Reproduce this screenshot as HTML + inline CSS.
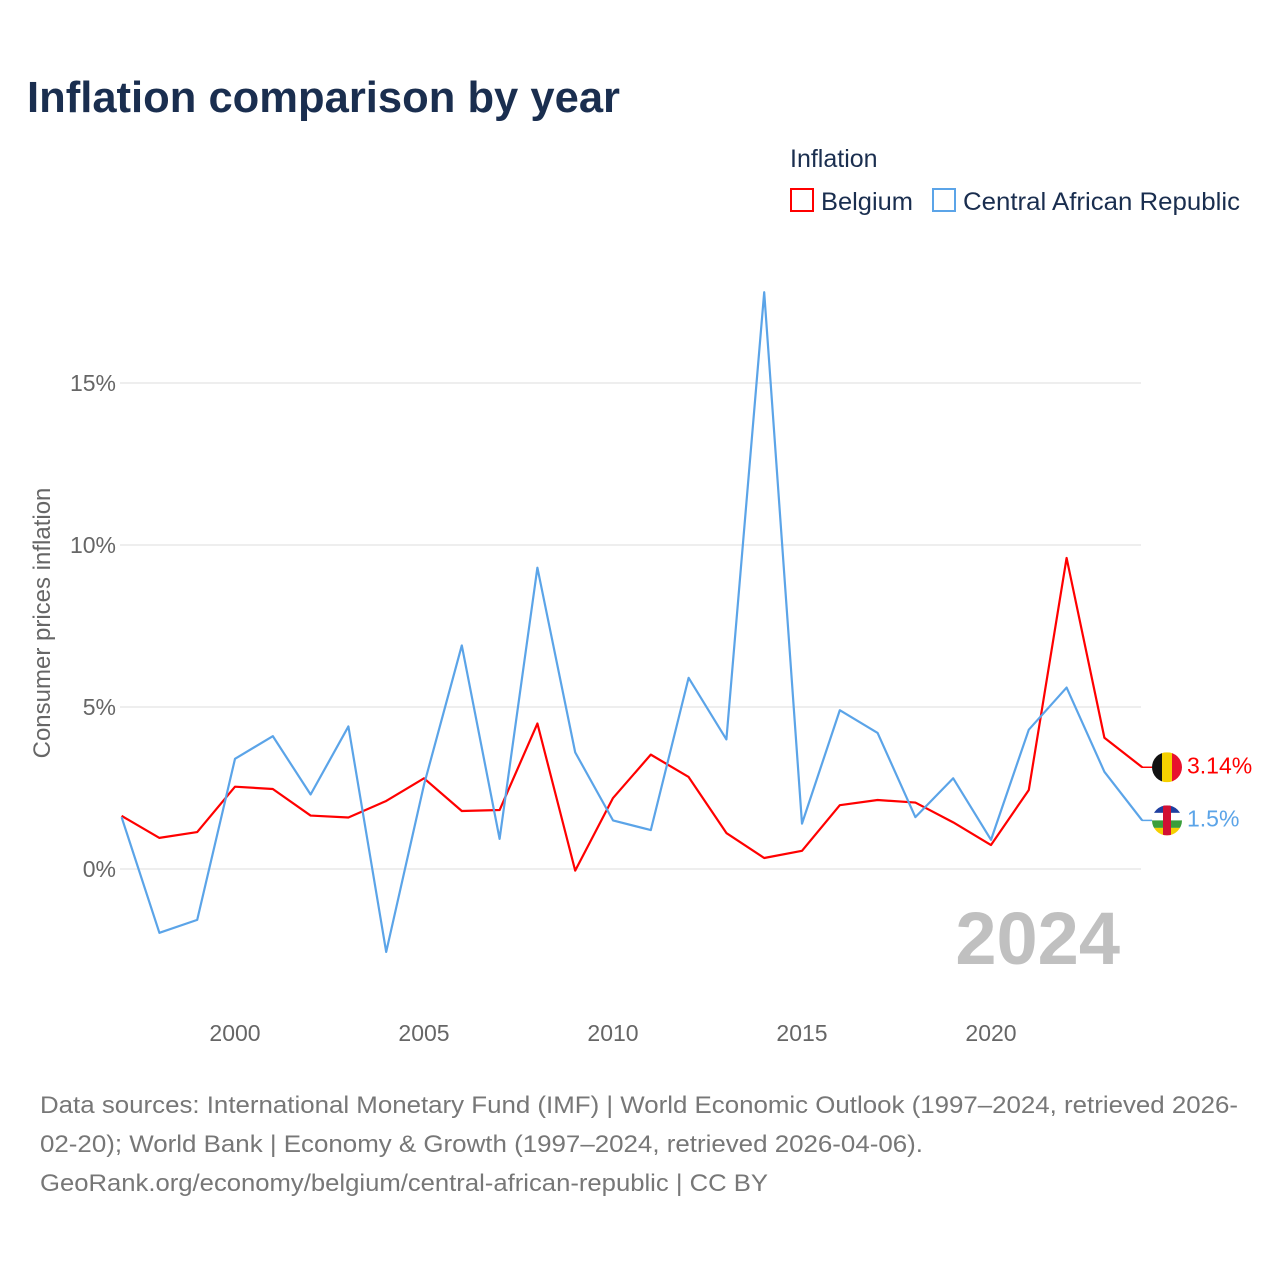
<!DOCTYPE html>
<html><head><meta charset="utf-8"><style>
body{margin:0;background:#fff;font-family:"Liberation Sans",sans-serif}
svg text{font-family:"Liberation Sans",sans-serif}
</style></head><body>
<svg id="chart" width="1280" height="1280" xmlns="http://www.w3.org/2000/svg">
<text x="27" y="112" font-size="44" font-weight="bold" fill="#1a2e4f" textLength="593" lengthAdjust="spacingAndGlyphs">Inflation comparison by year</text>
<text x="790" y="167" font-size="25" fill="#1a2e4f">Inflation</text>
<g><rect x="791" y="189" width="22" height="22" fill="none" stroke="#ff0000" stroke-width="2"/><text x="821" y="210" font-size="25" fill="#1a2e4f" textLength="92" lengthAdjust="spacingAndGlyphs">Belgium</text></g>
<g><rect x="933" y="189" width="22" height="22" fill="none" stroke="#5ba4e8" stroke-width="2"/><text x="963" y="210" font-size="25" fill="#1a2e4f" textLength="277" lengthAdjust="spacingAndGlyphs">Central African Republic</text></g>
<text transform="translate(50,623) rotate(-90)" text-anchor="middle" font-size="24" fill="#666">Consumer prices inflation</text>
<g id="grid"></g><g id="xt"></g><g id="series"></g>
<text x="1120" y="964" text-anchor="end" font-size="74" font-weight="bold" fill="#c0c0c0">2024</text>
<g font-size="24" fill="#777">
<text x="40" y="1113" textLength="1198" lengthAdjust="spacingAndGlyphs">Data sources: International Monetary Fund (IMF) | World Economic Outlook (1997–2024, retrieved 2026-</text>
<text x="40" y="1152" textLength="883" lengthAdjust="spacingAndGlyphs">02-20); World Bank | Economy &amp; Growth (1997–2024, retrieved 2026-04-06).</text>
<text x="40" y="1191" textLength="728" lengthAdjust="spacingAndGlyphs">GeoRank.org/economy/belgium/central-african-republic | CC BY</text>
</g>
</svg>
<script>
const years=[1997,1998,1999,2000,2001,2002,2003,2004,2005,2006,2007,2008,2009,2010,2011,2012,2013,2014,2015,2016,2017,2018,2019,2020,2021,2022,2023,2024];
const belgium=[1.64,0.96,1.14,2.54,2.47,1.65,1.59,2.1,2.8,1.79,1.82,4.49,-0.05,2.19,3.53,2.84,1.11,0.34,0.56,1.97,2.13,2.05,1.44,0.74,2.44,9.6,4.05,3.14];
const car=[1.6,-1.97,-1.57,3.4,4.1,2.3,4.4,-2.56,2.6,6.9,0.93,9.3,3.6,1.5,1.2,5.9,4.0,17.8,1.4,4.9,4.2,1.6,2.8,0.9,4.3,5.6,3.0,1.5];
const yTicks=[0,5,10,15];
const xTicks=[2000,2005,2010,2015,2020];
const X=y=>121.6+(y-1997)*37.8;
const Y=v=>869-v*32.4;
const NS="http://www.w3.org/2000/svg";
function mk(t,a,p){const e=document.createElementNS(NS,t);for(const k in a)e.setAttribute(k,a[k]);p.appendChild(e);return e;}
const grid=document.getElementById('grid');
yTicks.forEach(v=>{
 const l=mk('line',{x1:120,x2:1141,y1:Y(v),y2:Y(v),stroke:'#e8e8e8','stroke-width':1.5},grid);
 
 
 const t=mk('text',{x:116,y:Y(v)+8,'text-anchor':'end','font-size':23,fill:'#666'},grid);t.textContent=v+'%';
 
 
});
const xt=document.getElementById('xt');
xTicks.forEach(v=>{
 const t=mk('text',{x:X(v),y:1041,'text-anchor':'middle','font-size':23,fill:'#666'},xt);t.textContent=v;
 
 
});
const sg=document.getElementById('series');
function line(data,color,name,label){
 const p=mk('polyline',{points:data.map((v,i)=>X(years[i])+','+Y(v)).join(' '),fill:'none',stroke:color,'stroke-width':2.2,'stroke-linejoin':'round'},sg);
 
 
 const last=data[data.length-1],ly=Y(last);
 mk('line',{x1:1142,x2:1152,y1:ly,y2:ly,stroke:color,'stroke-width':1.5},sg);
 const t=mk('text',{x:1187,y:ly+6,'font-size':23,fill:color},sg);t.textContent=label;
 
 
 return ly;
}
const by=line(belgium,'#ff0000','belgium-line','3.14%');
const cy=line(car,'#5ba4e8','car-line','1.5%');
const fb=mk('g',{},sg);


mk('rect',{x:1152,y:by-15,width:10,height:30,fill:'#111'},fb);
mk('rect',{x:1162,y:by-15,width:10,height:30,fill:'#f5d000'},fb);
mk('rect',{x:1172,y:by-15,width:10,height:30,fill:'#e8112d'},fb);
const fc=mk('g',{},sg);


['#1f3fa0','#fff','#3a9e3a','#f5d000'].forEach((c,i)=>mk('rect',{x:1152,y:cy-15+i*7.5,width:30,height:7.5,fill:c},fc));
mk('rect',{x:1163,y:cy-15,width:8,height:30,fill:'#d21034'},fc);
const defs=mk('defs',{},document.getElementById('chart'));
mk('clipPath',{id:'cb'},defs);mk('circle',{cx:1167,cy:by,r:15},document.getElementById('cb'));
mk('clipPath',{id:'cc'},defs);mk('circle',{cx:1167,cy:cy,r:15},document.getElementById('cc'));
fb.setAttribute('clip-path','url(#cb)');fc.setAttribute('clip-path','url(#cc)');
</script>
</body></html>
